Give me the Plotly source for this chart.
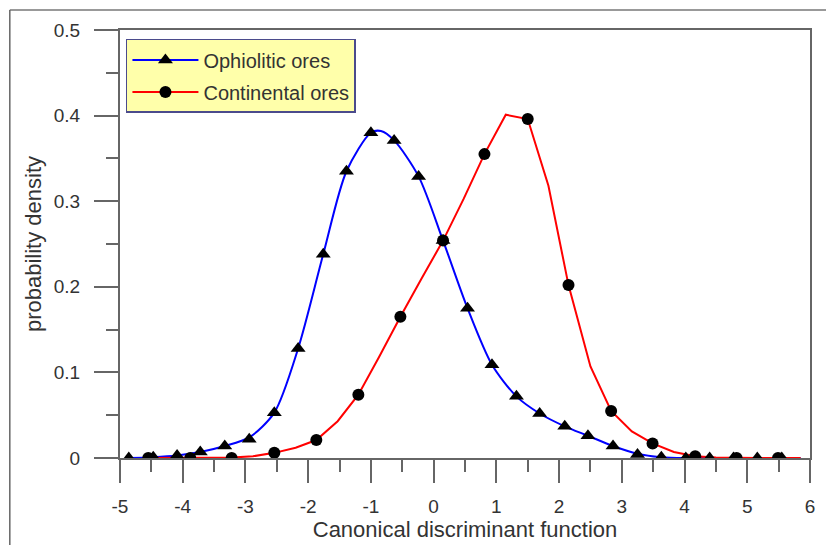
import plotly.graph_objects as go

# ---- data ----
# Ophiolitic ores: marker points (triangles)
oph_x = [-4.86, -4.47, -4.09, -3.72, -3.33, -2.94, -2.54, -2.16, -1.76, -1.39,
         -1.00, -0.63, -0.24, 0.15, 0.54, 0.93, 1.32, 1.69, 2.09, 2.46,
         2.86, 3.25, 3.63, 4.02, 4.40, 4.78, 5.16, 5.55]
oph_y = [0.000, 0.001, 0.003, 0.007, 0.014, 0.022, 0.053, 0.128, 0.238, 0.335,
         0.380, 0.371, 0.329, 0.254, 0.175, 0.109, 0.072, 0.052, 0.037, 0.026,
         0.014, 0.004, 0.001, 0.000, 0.000, 0.000, 0.000, 0.000]
# Ophiolitic ores: curve points
oph_line_x = [-4.86, -4.47, -4.09, -3.72, -3.33, -2.94, -2.54, -2.16, -1.76, -1.39,
              -1.00, -0.84, -0.63, -0.24, 0.15, 0.54, 0.93, 1.32, 1.69, 2.09, 2.46,
              2.86, 3.25, 3.63, 4.02, 4.40, 4.78, 5.16, 5.55, 5.85]
oph_line_y = [0.000, 0.001, 0.003, 0.007, 0.014, 0.024, 0.053, 0.128, 0.238, 0.335,
              0.380, 0.382, 0.371, 0.329, 0.254, 0.175, 0.109, 0.072, 0.052, 0.037, 0.026,
              0.014, 0.005, 0.001, 0.000, 0.000, 0.000, 0.000, 0.000, 0.000]

# Continental ores: marker points (circles)
con_x = [-4.55, -3.88, -3.22, -2.54, -1.87, -1.20, -0.53, 0.15, 0.81, 1.50,
         2.15, 2.83, 3.49, 4.17, 4.83, 5.49]
con_y = [0.000, 0.000, 0.000, 0.006, 0.021, 0.074, 0.165, 0.254, 0.355, 0.396,
         0.202, 0.055, 0.017, 0.002, 0.000, 0.000]
# Continental ores: curve points
con_line_x = [-4.55, -3.88, -3.22, -2.88, -2.54, -2.20, -1.87, -1.53, -1.20, -0.87,
              -0.53, -0.19, 0.15, 0.48, 0.81, 1.15, 1.50, 1.83, 2.15, 2.50,
              2.83, 3.16, 3.49, 3.83, 4.17, 4.50, 4.83, 5.16, 5.49, 5.85]
con_line_y = [0.000, 0.000, 0.0005, 0.002, 0.006, 0.012, 0.021, 0.043, 0.074, 0.118,
              0.165, 0.210, 0.254, 0.303, 0.355, 0.401, 0.396, 0.318, 0.202, 0.107,
              0.055, 0.031, 0.017, 0.007, 0.002, 0.0005, 0.000, 0.000, 0.000, 0.000]

x_tickvals = [-5, -4, -3, -2, -1, 0, 1, 2, 3, 4, 5, 6]
x_ticktext = ["-5", "-4", "-3", "-2", "-1", "0", "1", "2", "3", "4", "5", "6"]
y_tickvals = [0, 0.1, 0.2, 0.3, 0.4, 0.5]
y_ticktext = ["0", "0.1", "0.2", "0.3", "0.4", "0.5"]

series_names = ["Ophiolitic ores", "Continental ores"]

BLUE = "#0000ff"
RED = "#ff0000"
FONT = "Liberation Sans, Arial, sans-serif"
TXT = "#333333"
AX = "#666666"

fig = go.Figure()

# curves
fig.add_trace(go.Scatter(x=oph_line_x, y=oph_line_y, mode="lines",
                         line=dict(color=BLUE, width=2, shape="spline", smoothing=0.8),
                         showlegend=False, hoverinfo="skip"))
fig.add_trace(go.Scatter(x=con_line_x, y=con_line_y, mode="lines",
                         line=dict(color=RED, width=2),
                         showlegend=False, hoverinfo="skip"))
# markers
fig.add_trace(go.Scatter(x=oph_x, y=oph_y, mode="markers",
                         marker=dict(symbol="triangle-up", size=13, color="black"),
                         showlegend=False))
fig.add_trace(go.Scatter(x=con_x, y=con_y, mode="markers",
                         marker=dict(symbol="circle", size=12, color="black"),
                         showlegend=False))
# legend entries
fig.add_trace(go.Scatter(x=[None], y=[None], mode="lines+markers", name=series_names[0],
                         legendgroup="a",
                         line=dict(color=BLUE, width=2),
                         marker=dict(symbol="triangle-up", size=13, color="black")))
fig.add_trace(go.Scatter(x=[None], y=[None], mode="lines+markers", name=series_names[1],
                         legendgroup="b",
                         line=dict(color=RED, width=2),
                         marker=dict(symbol="circle", size=12, color="black")))

fig.update_layout(
    width=826, height=545,
    margin=dict(l=120, r=11, t=30, b=85),
    paper_bgcolor="white", plot_bgcolor="white",
    font=dict(family=FONT, size=19, color=TXT),
    showlegend=True,
    legend=dict(x=0.0086, y=0.979, xanchor="left", yanchor="top",
                bgcolor="#ffffaa", bordercolor="#4b4b8c", borderwidth=1.5,
                font=dict(family=FONT, size=20, color=TXT),
                itemwidth=66, tracegroupgap=3,
                traceorder="grouped"),
    xaxis=dict(range=[-5, 6], tickmode="array", tickvals=x_tickvals, ticktext=x_ticktext,
               ticks="outside", ticklen=23, tickwidth=1.5, tickcolor=AX,
               minor=dict(dtick=0.5, ticks="outside", ticklen=12, tickwidth=1.5, tickcolor=AX),
               showline=True, linecolor=AX, linewidth=2, mirror=True,
               showgrid=False, zeroline=False,
               ticklabelstandoff=7,
               tickfont=dict(size=19, color=TXT),
               title=dict(text="Canonical discriminant function", font=dict(size=22, color=TXT),
                          standoff=2)),
    yaxis=dict(range=[0, 0.5], tickmode="array", tickvals=y_tickvals, ticktext=y_ticktext,
               ticks="outside", ticklen=24, tickwidth=1.5, tickcolor=AX,
               minor=dict(dtick=0.05, ticks="outside", ticklen=12, tickwidth=1.5, tickcolor=AX),
               showline=True, linecolor=AX, linewidth=2, mirror=True,
               showgrid=False, zeroline=False,
               ticklabelstandoff=10,
               tickfont=dict(size=19, color=TXT),
               title=dict(text="probability density", font=dict(size=22, color=TXT),
                          standoff=6)),
    shapes=[
        dict(type="line", xref="paper", yref="paper", x0=-0.1597, x1=1.05, y0=1.0465, y1=1.0465,
             line=dict(color="#999999", width=2)),
        dict(type="line", xref="paper", yref="paper", x0=-0.1597, x1=-0.1597, y0=-0.3, y1=1.0465,
             line=dict(color="#666666", width=1.5)),
    ],
)

fig.write_html("out.html")
